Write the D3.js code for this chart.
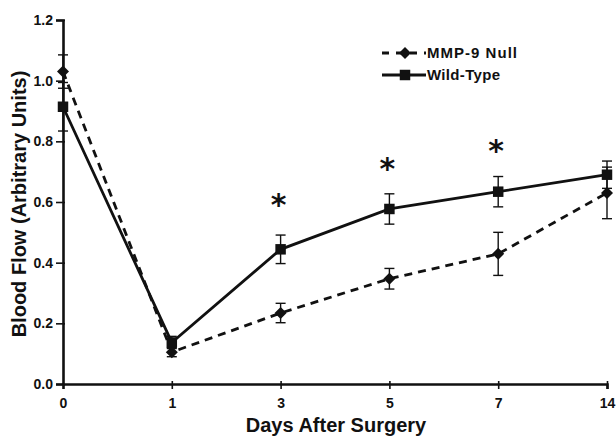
<!DOCTYPE html>
<html>
<head>
<meta charset="utf-8">
<script src="https://cdn.jsdelivr.net/npm/d3@7"></script>
<style>
  body { margin: 0; background: #fff; }
  text { font-family: "Liberation Sans", Arial, sans-serif; font-weight: bold; fill: #111; }
</style>
</head>
<body>
<div id="chart"></div>
<script>
// chart data
var days = ['0', '1', '3', '5', '7', '14'];
var nullMean = [1.03, 0.105, 0.234, 0.347, 0.429, 0.63];
var nullErr = [0.055, 0.015, 0.032, 0.034, 0.071, 0.085];
var wtMean = [0.914, 0.137, 0.444, 0.577, 0.634, 0.69];
var wtErr = [0.08, 0.02, 0.047, 0.05, 0.05, 0.045];
var yTicks = [0, 0.2, 0.4, 0.6, 0.8, 1.0, 1.2];
var sigDays = ['3', '5', '7'];
var sigLevel = [0.61, 0.73, 0.79];

var svgWidth = 616;
var svgHeight = 436;
var margin = { top: 20, right: 9, bottom: 52, left: 63 };
var chartWidth = svgWidth - margin.left - margin.right;
var chartHeight = svgHeight - margin.top - margin.bottom;

var svg = d3.select('#chart')
    .append('svg')
    .attr('width', svgWidth)
    .attr('height', svgHeight);

var chartGroup = svg.append('g')
    .attr('transform', `translate(${margin.left}, ${margin.top})`);

// category axis, evenly spaced days
var xScale = d3.scalePoint()
    .domain(days)
    .range([0, chartWidth]);

var yScale = d3.scaleLinear()
    .domain([0, 1.2])
    .range([chartHeight, 0]);

// axes
var leftAxis = d3.axisLeft(yScale)
    .tickValues(yTicks)
    .tickFormat(d3.format('.1f'))
    .tickSizeOuter(0)
    .tickSize(7)
    .tickPadding(3);

var bottomAxis = d3.axisBottom(xScale)
    .tickSizeOuter(0)
    .tickSize(5)
    .tickPadding(9);

var yAxisG = chartGroup.append('g').call(leftAxis);
var xAxisG = chartGroup.append('g')
    .attr('transform', `translate(0, ${chartHeight})`)
    .call(bottomAxis);

[yAxisG, xAxisG].forEach(g => {
    g.select('.domain').attr('stroke', '#111').attr('stroke-width', 2.6);
    g.selectAll('.tick line').attr('stroke', '#111').attr('stroke-width', 1.6);
    g.selectAll('.tick text')
        .style('font-family', '"Liberation Sans", Arial, sans-serif')
        .style('font-weight', 'bold')
        .style('font-size', '14px')
        .attr('fill', '#111');
});
// ticks cross the axis line a little
yAxisG.selectAll('.tick line').attr('x1', 2);
xAxisG.selectAll('.tick line').attr('y1', -3);
xAxisG.selectAll('.tick').filter(d => d === '0').select('line').remove();

// series
var series = [
    { name: 'MMP-9 Null', mean: nullMean, err: nullErr, dash: '8,6', diamond: true },
    { name: 'Wild-Type', mean: wtMean, err: wtErr, dash: null, diamond: false }
];

var line = d3.line()
    .x(d => xScale(d.day))
    .y(d => yScale(d.v));

var markerPath = s => d3.symbol().type(d3.symbolSquare).size(s.diamond ? 72 : 110)();
var markerRot = s => (s.diamond ? ' rotate(45)' : '');

series.forEach(s => {
    var pts = days.map((day, i) => ({ day: day, v: s.mean[i], e: s.err[i] }));

    // error bars
    var eb = chartGroup.append('g').selectAll('g')
        .data(pts)
        .enter()
        .append('g')
        .attr('stroke', '#111')
        .attr('stroke-width', 1.4);
    eb.append('line')
        .attr('x1', d => xScale(d.day)).attr('x2', d => xScale(d.day))
        .attr('y1', d => yScale(d.v - d.e)).attr('y2', d => yScale(d.v + d.e));
    eb.append('line')
        .attr('x1', d => xScale(d.day) - 5).attr('x2', d => xScale(d.day) + 5)
        .attr('y1', d => yScale(d.v + d.e)).attr('y2', d => yScale(d.v + d.e));
    eb.append('line')
        .attr('x1', d => xScale(d.day) - 5).attr('x2', d => xScale(d.day) + 5)
        .attr('y1', d => yScale(d.v - d.e)).attr('y2', d => yScale(d.v - d.e));

    chartGroup.append('path')
        .datum(pts)
        .attr('fill', 'none')
        .attr('stroke', '#111')
        .attr('stroke-width', 2.8)
        .attr('stroke-dasharray', s.dash)
        .attr('d', line);

    chartGroup.append('g').selectAll('path')
        .data(pts)
        .enter()
        .append('path')
        .attr('d', markerPath(s))
        .attr('transform', d => `translate(${xScale(d.day)}, ${yScale(d.v)})${markerRot(s)}`)
        .attr('fill', '#111');
});

// significance marks
chartGroup.selectAll('.sig')
    .data(sigDays)
    .enter()
    .append('text')
    .attr('class', 'sig')
    .attr('x', d => xScale(d) - 2)
    .attr('y', (d, i) => yScale(sigLevel[i]))
    .attr('text-anchor', 'middle')
    .attr('dy', '0.55em')
    .style('font-size', '30px')
    .style('font-family', '"DejaVu Sans", sans-serif')
    .style('font-weight', 'bold')
    .text('*');

// legend
var legend = svg.append('g').attr('transform', 'translate(382, 53)');
series.forEach((s, i) => {
    var g = legend.append('g').attr('transform', `translate(0, ${i * 22})`);
    g.append('line')
        .attr('x1', 0).attr('x2', 44)
        .attr('stroke', '#111')
        .attr('stroke-width', 2.8)
        .attr('stroke-dasharray', s.dash ? '7,7' : null);
    g.append('path')
        .attr('d', markerPath(s))
        .attr('transform', `translate(23, 0)${markerRot(s)}`)
        .attr('fill', '#111');
    g.append('text')
        .attr('x', 45)
        .attr('dy', '0.36em')
        .style('font-size', '15px')
        .attr('textLength', i === 0 ? 90 : 73)
        .text(s.name);
});

// axis titles
svg.append('text')
    .attr('x', 336)
    .attr('y', 432)
    .attr('text-anchor', 'middle')
    .style('font-size', '20px')
    .text('Days After Surgery');

svg.append('text')
    .attr('transform', 'translate(26, 204) rotate(-90)')
    .attr('text-anchor', 'middle')
    .style('font-size', '20px')
    .text('Blood Flow (Arbitrary Units)');
</script>
</body>
</html>
